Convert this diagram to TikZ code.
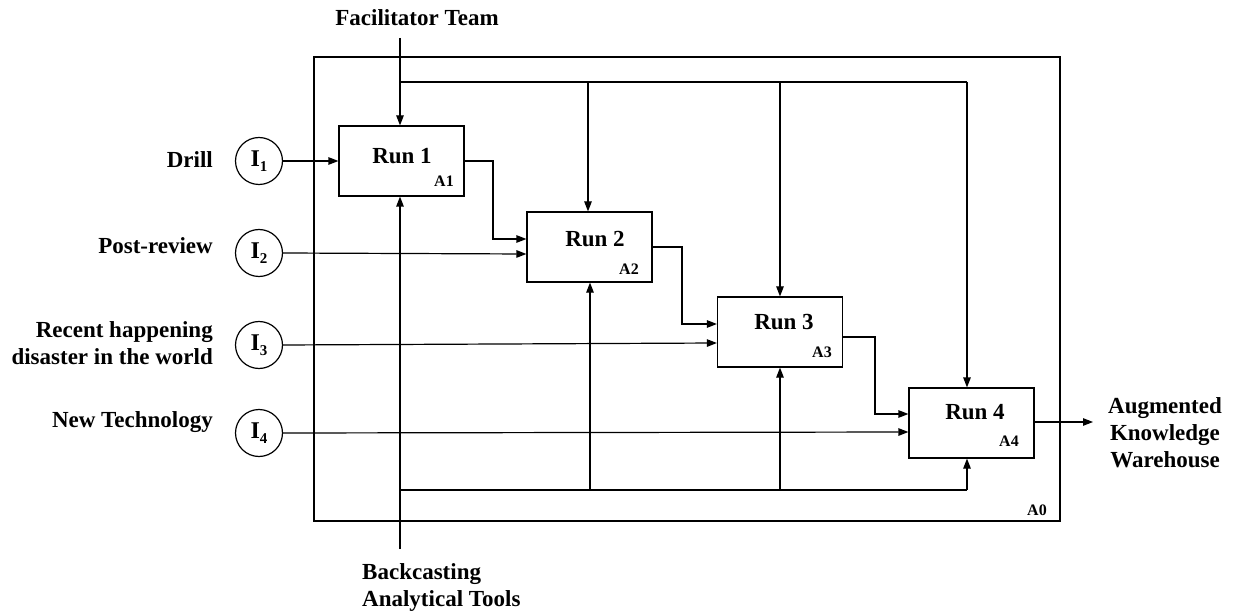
\documentclass[tikz,border=0pt]{standalone}
\usepackage{fontspec}
\setmainfont{Liberation Serif}
\usetikzlibrary{arrows.meta,positioning}

\newcommand{\bigtxt}{\fontsize{23bp}{27bp}\selectfont\bfseries}
\newcommand{\smalltxt}{\fontsize{16bp}{18bp}\selectfont\bfseries}
\newcommand{\inp}[1]{\fontsize{24bp}{24bp}\selectfont\bfseries I\raisebox{-0.45ex}{\fontsize{15bp}{15bp}\selectfont #1}}

\tikzset{
  wire/.style={line width=1.2bp, draw=black},
  arr/.style={wire, -{Triangle[length=10bp,width=7.5bp]}},
  runbox/.style={draw=black, line width=1.2bp, minimum width=125bp, minimum height=70bp, inner sep=0pt},
  inpcirc/.style={draw=black, line width=1.2bp, circle, minimum size=47bp, inner sep=0pt},
  lbl/.style={font=\bigtxt, inner sep=0pt},
  tag/.style={font=\smalltxt, inner sep=0pt}
}

\begin{document}
\begin{tikzpicture}[x=1bp, y=-1bp]
\useasboundingbox (0,0) rectangle (1236,616);

% enclosing activity A0
\node[draw=black, line width=1.2bp, minimum width=746bp, minimum height=464bp, inner sep=0pt] (a0) at (687,289) {};
\node[tag] (a0tag) at (1037,510) {A0};

% activity boxes
\node[runbox] (r1) at (401.5,161) {};
\node[runbox] (r2) at (589.5,247) {};
\node[runbox] (r3) at (780,332) {};
\node[runbox] (r4) at (971.5,423) {};

\node[lbl] (r1t) at (402,156) {Run 1};
\node[lbl] (r2t) at (595,239) {Run 2};
\node[lbl] (r3t) at (784,322) {Run 3};
\node[lbl] (r4t) at (975,412) {Run 4};

\node[tag] (r1a) at (444,181) {A1};
\node[tag] (r2a) at (629,269) {A2};
\node[tag] (r3a) at (822,352) {A3};
\node[tag] (r4a) at (1009,441) {A4};

% inputs
\node[inpcirc] (i1) at (259,161) {\inp{1}};
\node[inpcirc] (i2) at (259,253) {\inp{2}};
\node[inpcirc] (i3) at (259,345) {\inp{3}};
\node[inpcirc] (i4) at (259,433) {\inp{4}};

\node[lbl, anchor=east] (l1) at (213,160) {Drill};
\node[lbl, anchor=east] (l2) at (213,246) {Post-review};
\node[lbl, anchor=east, align=right] (l3) at (213,343) {Recent happening\\disaster in the world};
\node[lbl, anchor=east] (l4) at (213,422) {New Technology};

\draw[arr] (i1.east) -- (r1.west);
\draw[arr] (i2.east) -- ([yshift=-7bp]r2.west);
\draw[arr] (i3.east) -- ([yshift=-11bp]r3.west);
\draw[arr] (i4.east) -- ([yshift=-9bp]r4.west);

% outputs passed from run to run
\draw[arr] (r1.east) -| (493,200) |- ([yshift=8bp]r2.west);
\draw[arr] (r2.east) -| (682,290) |- ([yshift=8bp]r3.west);
\draw[arr] ([yshift=-5bp]r3.east) -| (875,380) |- ([yshift=9bp]r4.west);
\coordinate (outend) at (1093,422);
\draw[arr] ([yshift=1bp]r4.east) -- (outend);
\node[lbl, align=center] (outl) at (1165,433) {Augmented\\Knowledge\\Warehouse};

% control: facilitator team
\node[lbl] (ft) at (417,18) {Facilitator Team};
\coordinate (ftop) at (400,38);
\coordinate (fsplit) at (400,82);
\coordinate (f2) at (588,82);
\coordinate (f3) at (780,82);
\coordinate (f4) at (967,82);
\draw[arr] (ftop) -- (ftop |- r1.north);
\draw[wire] (fsplit) -- (f4);
\draw[arr] (f2) -- (f2 |- r2.north);
\draw[arr] (f3) -- (f3 |- r3.north);
\draw[arr] (f4) -- (f4 |- r4.north);

% mechanism: backcasting analytical tools
\node[lbl, anchor=west, align=left] (bt) at (362,588) {Backcasting\\Analytical Tools};
\coordinate (bbot) at (400,549);
\coordinate (bsplit) at (400,490);
\coordinate (b2) at (590,490);
\coordinate (b3) at (780,490);
\coordinate (b4) at (967,490);
\draw[arr] (bbot) -- (bbot |- r1.south);
\draw[wire] (bsplit) -- (b4);
\draw[arr] (b2) -- (b2 |- r2.south);
\draw[arr] (b3) -- (b3 |- r3.south);
\draw[arr] (b4) -- (b4 |- r4.south);
\end{tikzpicture}
\end{document}
